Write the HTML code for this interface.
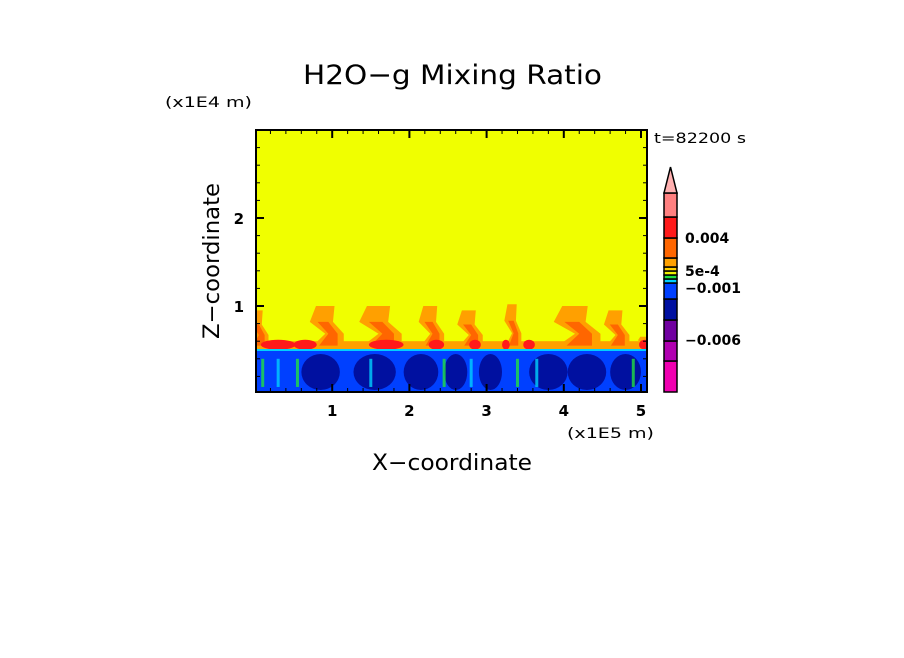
<!DOCTYPE html>
<html><head><meta charset="utf-8"><style>
body{margin:0;background:#fff;width:904px;height:654px;overflow:hidden;font-family:"DejaVu Sans","Liberation Sans",sans-serif}
svg text{font-family:"DejaVu Sans","Liberation Sans",sans-serif;fill:#000}
</style></head><body>
<svg id="c" width="904" height="654" xmlns="http://www.w3.org/2000/svg">
<text x="303" y="84" font-size="27" textLength="299" lengthAdjust="spacingAndGlyphs">H2O−g Mixing Ratio</text>
<text x="165" y="107" font-size="14" textLength="87" lengthAdjust="spacingAndGlyphs">(x1E4 m)</text>
<text x="654" y="143" font-size="14" textLength="92" lengthAdjust="spacingAndGlyphs">t=82200 s</text>
<text x="567" y="438" font-size="14" textLength="87" lengthAdjust="spacingAndGlyphs">(x1E5 m)</text>
<text x="372" y="470" font-size="22" textLength="160" lengthAdjust="spacingAndGlyphs">X−coordinate</text>
<text x="0" y="0" font-size="22" textLength="156" lengthAdjust="spacingAndGlyphs" transform="translate(219,339) rotate(-90)">Z−coordinate</text>
<defs><clipPath id="pc"><rect x="256" y="130" width="391" height="262"/></clipPath></defs>
<g id="plot" clip-path="url(#pc)"></g>
<g id="axes"></g>
<g id="cbar"></g>
</svg>
<script>
// data
const xTicks=[1,2,3,4,5];
const zTicks=[1,2];
const plumeX=[0.05,0.95,1.65,2.3,2.8,3.35,4.2,4.7,5.05];   // x (1e5 m)
const plumeTop=[0.95,1.0,1.0,1.0,0.95,1.02,1.0,0.95,0.65]; // z (1e4 m)
const plumeW=[0.25,0.4,0.5,0.3,0.3,0.2,0.55,0.3,0.15];
const redX=[0.3,0.65,1.7,2.35,2.85,3.25,3.55,5.05];
const redW=[0.45,0.3,0.45,0.2,0.15,0.1,0.15,0.15];
const darkX=[0.85,1.55,2.15,2.6,3.05,3.8,4.3,4.8];
const darkW=[0.5,0.55,0.45,0.3,0.3,0.5,0.5,0.4];
const cyanX=[0.1,0.3,0.55,1.5,2.45,2.8,3.4,3.65,4.9];
const cbColors=["#f000b0","#b000b0","#7000a0","#0010a0","#0040ff","#00d0ff","#20e040","#f0f000","#ffd000","#ffa000","#ff6600","#ff1a1a","#ff8080"];
const cbLabels=["−0.006","−0.001","5e-4","0.004"];

const X0=256,X1=647,Y0=392,Y1=130;
const sx=v=>255+v*77.2, sz=v=>394-v*88;
const NS="http://www.w3.org/2000/svg";
function mk(p,t,a){const e=document.createElementNS(NS,t);for(const k in a)e.setAttribute(k,a[k]);p.appendChild(e);return e;}
const P=document.getElementById('plot');
let e=mk(P,'rect',{x:X0,y:Y1,width:X1-X0,height:Y0-Y1,fill:'#f0ff00'});

e=mk(P,'rect',{x:X0,y:sz(0.6),width:X1-X0,height:sz(0.5)-sz(0.6),fill:'#ffa000'});

plumeX.forEach((x,i)=>{
  const w=plumeW[i],t=plumeTop[i],h=t-0.55;
  const L=[[x-w*0.5,0.55],[x-w*0.1,0.55+h*0.3],[x-w*0.6,0.55+h*0.6],[x-w*0.4,t]];
  const R=[[x+w*0.2,t],[x+w*0.15,0.55+h*0.6],[x+w*0.5,0.55+h*0.3],[x+w*0.5,0.55]];
  e=mk(P,'polygon',{points:L.concat(R).map(p=>sx(p[0])+','+sz(p[1])).join(' '),fill:'#ffa000'});
  
  const I=[[x-w*0.3,0.55],[x,0.55+h*0.3],[x-w*0.35,0.55+h*0.6],[x,0.55+h*0.6],[x+w*0.3,0.55+h*0.3],[x+w*0.3,0.55]];
  e=mk(P,'polygon',{points:I.map(p=>sx(p[0])+','+sz(p[1])).join(' '),fill:'#ff6600'});
  
});
redX.forEach((x,i)=>{
  e=mk(P,'ellipse',{cx:sx(x),cy:sz(0.56),rx:redW[i]*77/2,ry:5,fill:'#ff1a1a'});
  
});
e=mk(P,'rect',{x:X0,y:sz(0.5),width:X1-X0,height:Y0-sz(0.5),fill:'#0040ff'});

darkX.forEach((x,i)=>{
  e=mk(P,'ellipse',{cx:sx(x),cy:sz(0.25),rx:darkW[i]*77/2,ry:18,fill:'#0010a0'});
  
});
cyanX.forEach((x,i)=>{
  e=mk(P,'rect',{x:sx(x)-1.5,y:sz(0.4),width:3,height:sz(0.08)-sz(0.4),fill:i%2?'#00d0ff':'#20e040',opacity:0.8});
  
});
e=mk(P,'rect',{x:X0,y:sz(0.5)-1,width:X1-X0,height:2,fill:'#00d0ff'});

const A=document.getElementById('axes');
e=mk(A,'rect',{x:X0,y:Y1,width:X1-X0,height:Y0-Y1,fill:'none',stroke:'#000','stroke-width':2});

for(let v=0.2;v<5.1;v+=0.2){const x=sx(v),maj=Math.abs(v-Math.round(v))<0.01,L=maj?8:4;
  mk(A,'line',{x1:x,y1:Y0,x2:x,y2:Y0-L,stroke:'#000','stroke-width':maj?2:1});
  mk(A,'line',{x1:x,y1:Y1,x2:x,y2:Y1+L,stroke:'#000','stroke-width':maj?2:1});}
for(let v=0.2;v<2.99;v+=0.2){const y=sz(v),maj=Math.abs(v-Math.round(v))<0.01,L=maj?8:4;
  mk(A,'line',{x1:X0,y1:y,x2:X0+L,y2:y,stroke:'#000','stroke-width':maj?2:1});
  mk(A,'line',{x1:X1,y1:y,x2:X1-L,y2:y,stroke:'#000','stroke-width':maj?2:1});}
xTicks.forEach(v=>{e=mk(A,'text',{x:sx(v),y:416,'font-size':15,'text-anchor':'middle','font-weight':'bold'});e.textContent=v;
  });
zTicks.forEach(v=>{e=mk(A,'text',{x:244,y:sz(v)+6,'font-size':15,'text-anchor':'end','font-weight':'bold'});e.textContent=v;
  });
const C=document.getElementById('cbar');
const segB=[392,361,341,320,299,283,279,275,271,267,258,238,217,193];
cbColors.forEach((c,i)=>{mk(C,'rect',{x:664,y:segB[i+1],width:13,height:segB[i]-segB[i+1],fill:c,stroke:'#000','stroke-width':1.5});});
mk(C,'polygon',{points:'664,193 677,193 670.5,167',fill:'#ffb0b0',stroke:'#000','stroke-width':1.5});
cbLabels.forEach((l,i)=>{const y=[340,288,271,238][i];e=mk(C,'text',{x:685,y:y+5,'font-size':14,'font-weight':'bold'});e.textContent=l;
  });
</script>
</body></html>
